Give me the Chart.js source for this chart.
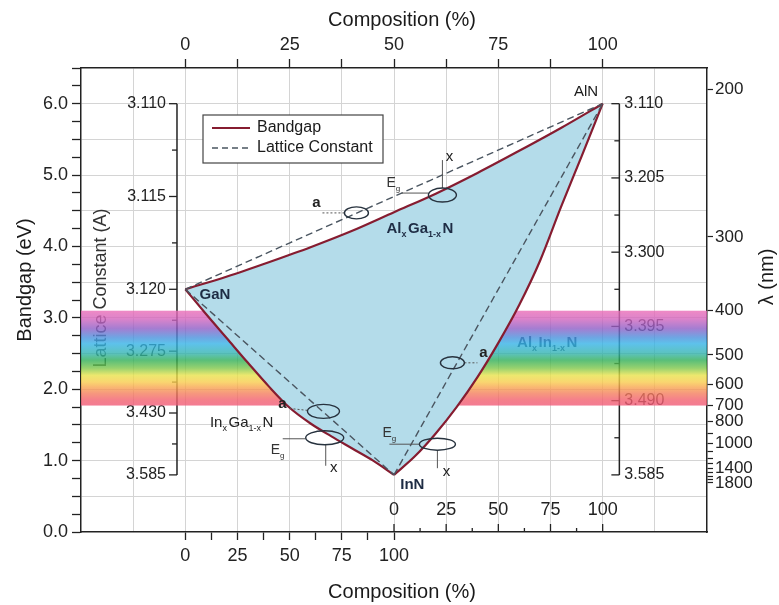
<!DOCTYPE html>
<html><head><meta charset="utf-8">
<script src="https://cdn.jsdelivr.net/npm/chart.js@4"></script>
<style>html,body{margin:0;padding:0;background:#fff;}canvas{display:block;}</style>
</head><body>
<canvas id="c" width="779" height="605"></canvas>
<script>
// ---------------- data ----------------
const alloyComposition = [0, 10, 20, 30, 40, 50, 60, 70, 80, 90, 100];        // %
const alganBandgap = [3.40, 3.58, 3.78, 3.99, 4.22, 4.48, 4.74, 5.03, 5.34, 5.66, 6.00]; // eV, Al_xGa_1-xN (top axis)
const inganBandgap = [3.40, 3.05, 2.71, 2.37, 2.04, 1.74, 1.52, 1.34, 1.17, 1.00, 0.80]; // eV, In_xGa_1-xN (outer bottom axis)
const alinnBandgap = [0.80, 1.06, 1.38, 1.75, 2.17, 2.65, 3.18, 3.80, 4.55, 5.27, 6.00]; // eV, Al_xIn_1-xN (inner bottom axis)
const latticeComposition = [0, 100];
const alganLattice = [3.40, 6.00];   // dashed lines, drawn on the bandgap scale
const inganLattice = [3.40, 0.80];
const alinnLattice = [0.80, 6.00];

// ---------------- ticks / labels ----------------
const compositionTicks = [0, 12.5, 25, 37.5, 50, 62.5, 75, 87.5, 100];
const compositionLabels = [0, 25, 50, 75, 100];
const topGridTicks = [-12.5, 0, 12.5, 25, 37.5, 50, 62.5, 75, 87.5, 100, 112.5];
const bandgapTicks = [0,0.25,0.5,0.75,1,1.25,1.5,1.75,2,2.25,2.5,2.75,3,3.25,3.5,3.75,4,4.25,4.5,4.75,5,5.25,5.5,5.75,6,6.25,6.5];
const bandgapLabels = [0, 1, 2, 3, 4, 5, 6];
const lambdaTicksNm = [200, 300, 400, 500, 600, 700, 800, 900, 1000, 1100, 1200, 1300, 1400, 1500, 1600, 1700, 1800];
const lambdaLabelsNm = [200, 300, 400, 500, 600, 700, 800, 1000, 1400, 1800];
const leftLatticeLabels = ['3.110', '3.115', '3.120', '3.275', '3.430', '3.585'];
const leftLatticeAtEv = [6.0, 4.7, 3.4, 2.533, 1.667, 0.8];
const rightLatticeLabels = ['3.110', '3.205', '3.300', '3.395', '3.490', '3.585'];
const rightLatticeAtEv = [6.0, 4.96, 3.92, 2.88, 1.84, 0.8];
const visibleBandNm = [400, 700];
const spectrumNm = [400, 415, 435, 455, 470, 495, 515, 540, 565, 590, 610, 640, 670, 700];

// ---------------- styles ----------------
const F = "'Liberation Sans', Arial, Helvetica, sans-serif";
const INK = '#222222';
const GRID = '#d4d4d4';
const BANDGAP_COLOR = '#861c30';
const LATTICE_COLOR = '#4a5560';
const FILL_COLOR = '#b4dcea';
const spectrumColors = ['#ea6cb6', '#d465bd', '#8e5dc6', '#4a8fdc', '#35b2e6', '#33b3b0', '#2fae58', '#7cc64a',
  '#e8e24a', '#f8cc4c', '#f8a84e', '#f47c5e', '#f2606e', '#f05a78'];
const NONE = 'rgba(0,0,0,0)';
const leftLatticeAxisAt = -2;    // position on top composition axis
const rightLatticeAxisAt = 104;

const markers = [
  {x: 41.0, y: 4.47, rx: 12, ry: 6, lines: [[-12, 0, -34, 0, true]], notes: [['a', -40, -10]]},
  {x: 61.6, y: 4.72, rx: 14, ry: 7, lines: [[-14, -2, -41, -2, false], [0, -7, 0, -35, false]], notes: [['Eg', -51, -13], ['x', 7, -38]]},
  {x: 33.1, y: 1.69, rx: 16, ry: 7, lines: [[-16, -1, -35, -3, true]], notes: [['a', -41, -8]]},
  {x: 33.4, y: 1.32, rx: 19, ry: 7, lines: [[-19, 1, -42, 1, false], [1, 7, 1, 28, false]], notes: [['Eg', -49, 11], ['x', 9, 30]]},
  {x: 64.0, y: 2.37, rx: 12, ry: 6, lines: [[12, 0, 25, 0, true]], notes: [['a', 31, -10]]},
  {x: 60.4, y: 1.23, rx: 18, ry: 6, lines: [[-18, 0, -48, 0, false], [0, 6, 0, 24, false]], notes: [['Eg', -50, -12], ['x', 9, 28]]}
];

const pts = (xs, ys) => xs.map((x, i) => ({x: x, y: ys[i]}));

function richText(ctx, parts, x, y, size, color, weight) {
  ctx.fillStyle = color; ctx.textAlign = 'left'; ctx.textBaseline = 'alphabetic';
  let cx = x;
  parts.forEach(([s, sub]) => {
    const fs = sub ? Math.round(size * 0.6) : size;
    ctx.font = `${weight} ${fs}px ${F}`;
    ctx.fillText(s, cx, sub ? y + size * 0.28 : y);
    cx += ctx.measureText(s).width + (sub ? 1.5 : 0);
  });
}

function latticeAxis(ctx, axX, ys, evs, labels, side) {
  ctx.strokeStyle = INK; ctx.lineWidth = 1.5; ctx.setLineDash([]);
  ctx.beginPath();
  ctx.moveTo(axX, ys.getPixelForValue(evs[0]));
  ctx.lineTo(axX, ys.getPixelForValue(evs[evs.length - 1]));
  ctx.stroke();
  ctx.lineWidth = 1.3;
  ctx.font = `16px ${F}`; ctx.fillStyle = INK; ctx.textBaseline = 'middle';
  ctx.textAlign = side === 'left' ? 'right' : 'left';
  evs.forEach((ev, i) => {
    const py = ys.getPixelForValue(ev);
    ctx.beginPath(); ctx.moveTo(axX - 8, py); ctx.lineTo(axX, py); ctx.stroke();
    ctx.fillText(labels[i], side === 'left' ? axX - 11 : axX + 5, py);
    if (i < evs.length - 1) {
      const pm = ys.getPixelForValue((ev + evs[i + 1]) / 2);
      ctx.beginPath(); ctx.moveTo(axX - 5, pm); ctx.lineTo(axX, pm); ctx.stroke();
    }
  });
}

const decor = {
  id: 'decor',
  beforeDatasetsDraw(chart) {
    const {ctx, chartArea: ca, scales} = chart;
    const x = scales.x, y = scales.y, xb2 = scales.xb2;
    ctx.save();
    latticeAxis(ctx, x.getPixelForValue(leftLatticeAxisAt), y, leftLatticeAtEv, leftLatticeLabels, 'left');
    latticeAxis(ctx, x.getPixelForValue(rightLatticeAxisAt), y, rightLatticeAtEv, rightLatticeLabels, 'right');
    // inner bottom composition axis (Al_xIn_1-xN)
    ctx.strokeStyle = INK; ctx.lineWidth = 1.3;
    ctx.font = `18px ${F}`; ctx.fillStyle = INK; ctx.textAlign = 'center'; ctx.textBaseline = 'middle';
    compositionTicks.forEach(v => {
      const p = xb2.getPixelForValue(v);
      const major = compositionLabels.includes(v);
      ctx.beginPath(); ctx.moveTo(p, ca.bottom); ctx.lineTo(p, ca.bottom - (major ? 8 : 4)); ctx.stroke();
      if (major) ctx.fillText(String(v), p, ca.bottom - 22);
    });
    // inner lattice title
    ctx.save();
    ctx.translate(101, 288); ctx.rotate(-Math.PI / 2);
    ctx.font = `18px ${F}`; ctx.fillStyle = '#333'; ctx.textAlign = 'center'; ctx.textBaseline = 'middle';
    ctx.fillText('Lattice Constant (A)', 0, 0);
    ctx.restore();
    // AlInN label (lies under the spectrum band)
    richText(ctx, [['Al', 0], ['x', 1], ['In', 0], ['1-x', 1], ['N', 0]],
      x.getPixelForValue(79.5), y.getPixelForValue(2.66) + 5, 15, '#1e2c44', 'bold');
    // visible spectrum band
    const yTop = y.getPixelForValue(1240 / visibleBandNm[0]);
    const yBot = y.getPixelForValue(1240 / visibleBandNm[1]);
    const g = ctx.createLinearGradient(0, yTop, 0, yBot);
    spectrumNm.forEach((nm, i) => {
      const f = (y.getPixelForValue(1240 / nm) - yTop) / (yBot - yTop);
      g.addColorStop(Math.min(1, Math.max(0, f)), spectrumColors[i]);
    });
    ctx.globalAlpha = 0.8;
    ctx.fillStyle = g;
    ctx.fillRect(ca.left, yTop, ca.right - ca.left, yBot - yTop);
    ctx.restore();
  },
  afterDatasetsDraw(chart) {
    const {ctx, chartArea: ca, scales} = chart;
    const x = scales.x, y = scales.y;
    ctx.save();
    // ellipses and leaders
    markers.forEach(m => {
      const cx = x.getPixelForValue(m.x), cy = y.getPixelForValue(m.y);
      m.lines.forEach(([x1, y1, x2, y2, dotted]) => {
        ctx.strokeStyle = '#555'; ctx.lineWidth = 1;
        ctx.setLineDash(dotted ? [2, 2] : []);
        ctx.beginPath(); ctx.moveTo(cx + x1, cy + y1); ctx.lineTo(cx + x2, cy + y2); ctx.stroke();
      });
      ctx.setLineDash([]);
      ctx.strokeStyle = '#27323e'; ctx.lineWidth = 1.4;
      ctx.beginPath(); ctx.ellipse(cx, cy, m.rx, m.ry, 0, 0, Math.PI * 2); ctx.stroke();
      m.notes.forEach(([t, dx, dy]) => {
        if (t === 'Eg') {
          richText(ctx, [['E', 0], ['g', 1]], cx + dx - 5, cy + dy + 5, 14, '#333', 'normal');
        } else {
          ctx.font = `${t === 'a' ? 'bold ' : ''}15px ${F}`; ctx.fillStyle = '#222';
          ctx.textAlign = 'center'; ctx.textBaseline = 'middle';
          ctx.fillText(t, cx + dx, cy + dy);
        }
      });
    });
    // end-member labels
    ctx.font = `15px ${F}`; ctx.fillStyle = '#1a1a1a'; ctx.textAlign = 'center'; ctx.textBaseline = 'middle';
    ctx.fillText('AlN', x.getPixelForValue(96.0), y.getPixelForValue(6.16));
    ctx.font = `bold 15px ${F}`; ctx.fillStyle = '#1e2c44';
    ctx.fillText('GaN', x.getPixelForValue(7.1), y.getPixelForValue(3.32));
    ctx.fillText('InN', x.getPixelForValue(54.4), y.getPixelForValue(0.66));
    richText(ctx, [['Al', 0], ['x', 1], ['Ga', 0], ['1-x', 1], ['N', 0]],
      x.getPixelForValue(48.2), y.getPixelForValue(4.26) + 5, 15, '#1e2c44', 'bold');
    richText(ctx, [['In', 0], ['x', 1], ['Ga', 0], ['1-x', 1], ['N', 0]],
      x.getPixelForValue(5.9), y.getPixelForValue(1.54) + 5, 15, '#222', 'normal');
    // legend
    const lx = ca.left + 122, ly = ca.top + 47;
    ctx.fillStyle = '#fff'; ctx.fillRect(lx, ly, 180, 48);
    ctx.strokeStyle = '#444'; ctx.lineWidth = 1.2; ctx.strokeRect(lx, ly, 180, 48);
    const ds = chart.data.datasets;
    ctx.lineWidth = 2.2; ctx.strokeStyle = ds[0].borderColor;
    ctx.beginPath(); ctx.moveTo(lx + 9, ly + 13); ctx.lineTo(lx + 47, ly + 13); ctx.stroke();
    ctx.lineWidth = 1.4; ctx.strokeStyle = ds[3].borderColor; ctx.setLineDash([6, 4]);
    ctx.beginPath(); ctx.moveTo(lx + 9, ly + 33); ctx.lineTo(lx + 47, ly + 33); ctx.stroke();
    ctx.setLineDash([]);
    ctx.font = `16px ${F}`; ctx.fillStyle = '#1a1a1a'; ctx.textAlign = 'left'; ctx.textBaseline = 'middle';
    ctx.fillText(ds[0].label, lx + 54, ly + 13);
    ctx.fillText(ds[3].label, lx + 54, ly + 33);
    ctx.restore();
  },
  afterDraw(chart) {
    const {ctx} = chart;
    ctx.save();
    ctx.font = `20px ${F}`; ctx.fillStyle = '#1a1a1a'; ctx.textAlign = 'center'; ctx.textBaseline = 'middle';
    ctx.fillText('Composition (%)', 402, 20);
    ctx.fillText('Composition (%)', 402, 592);
    ctx.save(); ctx.translate(25, 280); ctx.rotate(-Math.PI / 2); ctx.fillText('Bandgap (eV)', 0, 0); ctx.restore();
    ctx.save(); ctx.translate(767, 277); ctx.rotate(-Math.PI / 2); ctx.fillText('\u03bb (nm)', 0, 0); ctx.restore();
    ctx.restore();
  }
};

const common = {pointRadius: 0, pointHoverRadius: 0, cubicInterpolationMode: 'monotone', yAxisID: 'y'};
const tickFont = {family: F, size: 18};

new Chart(document.getElementById('c'), {
  type: 'line',
  data: {
    datasets: [
      Object.assign({label: 'Bandgap', data: pts(alloyComposition, alganBandgap), xAxisID: 'x',
        borderColor: BANDGAP_COLOR, borderWidth: 2.2, fill: false, order: 1}, common),
      Object.assign({label: 'Bandgap', data: pts(alloyComposition, inganBandgap), xAxisID: 'xb',
        borderColor: BANDGAP_COLOR, borderWidth: 2.2, fill: 0, backgroundColor: FILL_COLOR, order: 2}, common),
      Object.assign({label: 'Bandgap', data: pts(alloyComposition, alinnBandgap), xAxisID: 'xb2',
        borderColor: BANDGAP_COLOR, borderWidth: 2.2, fill: 0, backgroundColor: FILL_COLOR, order: 2}, common),
      Object.assign({label: 'Lattice Constant', data: pts(latticeComposition, alganLattice), xAxisID: 'x',
        borderColor: LATTICE_COLOR, borderWidth: 1.4, borderDash: [7, 4], fill: false, order: 0}, common),
      Object.assign({label: 'Lattice Constant', data: pts(latticeComposition, inganLattice), xAxisID: 'xb',
        borderColor: LATTICE_COLOR, borderWidth: 1.4, borderDash: [7, 4], fill: false, order: 0}, common),
      Object.assign({label: 'Lattice Constant', data: pts(latticeComposition, alinnLattice), xAxisID: 'xb2',
        borderColor: LATTICE_COLOR, borderWidth: 1.4, borderDash: [7, 4], fill: false, order: 0}, common)
    ]
  },
  options: {
    responsive: false, animation: false, events: [],
    layout: {padding: 0},
    plugins: {legend: {display: false}, tooltip: {enabled: false}, filler: {drawTime: 'beforeDatasetDraw'}},
    scales: {
      x: {
        type: 'linear', position: 'top', min: -25, max: 125,
        afterBuildTicks: s => { s.ticks = topGridTicks.map(v => ({value: v})); },
        afterFit: s => { s.height = 68; },
        grid: {color: GRID, lineWidth: 1, tickLength: 9, tickWidth: 1.3,
          tickColor: c => (c.tick && c.tick.value >= 0 && c.tick.value <= 100) ? INK : NONE},
        border: {display: true, color: INK, width: 1.5},
        ticks: {autoSkip: false, maxRotation: 0, padding: 3, font: tickFont, color: INK,
          callback: v => compositionLabels.includes(v) ? String(v) : ''}
      },
      xb: {
        type: 'linear', position: 'bottom', min: -50, max: 250,
        afterBuildTicks: s => { s.ticks = compositionTicks.map(v => ({value: v})); },
        afterFit: s => { s.height = 73; },
        grid: {drawOnChartArea: false, tickLength: 8, tickWidth: 1.3, tickColor: INK},
        border: {display: true, color: INK, width: 1.5},
        ticks: {autoSkip: false, maxRotation: 0, padding: 5, font: tickFont, color: INK,
          callback: v => compositionLabels.includes(v) ? String(v) : ''}
      },
      xb2: {type: 'linear', display: false, min: -150, max: 150},
      y: {
        type: 'linear', position: 'left', min: 0, max: 6.5,
        afterBuildTicks: s => { s.ticks = bandgapTicks.map(v => ({value: v})); },
        afterFit: s => { s.width = 81; },
        grid: {lineWidth: 1, tickLength: 9, tickWidth: 1.3, tickColor: INK,
          color: c => (c.tick && Number.isInteger(c.tick.value * 2) && c.tick.value > 0 && c.tick.value < 6.5) ? GRID : NONE},
        border: {display: true, color: INK, width: 1.5},
        ticks: {autoSkip: false, padding: 4, font: tickFont, color: INK,
          callback: v => bandgapLabels.includes(v) ? v.toFixed(1) : ''}
      },
      yr: {
        type: 'linear', position: 'right', min: 0, max: 6.5,
        afterBuildTicks: s => { s.ticks = lambdaTicksNm.map(nm => ({value: 1240 / nm})).sort((a, b) => a.value - b.value); },
        afterFit: s => { s.width = 72; },
        grid: {drawOnChartArea: false, tickLength: 6, tickWidth: 1.2, tickColor: INK},
        border: {display: true, color: INK, width: 1.5},
        ticks: {autoSkip: false, padding: 2, font: {family: F, size: 17}, color: INK,
          callback: v => { const nm = Math.round(1240 / v); return lambdaLabelsNm.includes(nm) ? String(nm) : ''; }}
      }
    }
  },
  plugins: [decor]
});
</script>
</body></html>
